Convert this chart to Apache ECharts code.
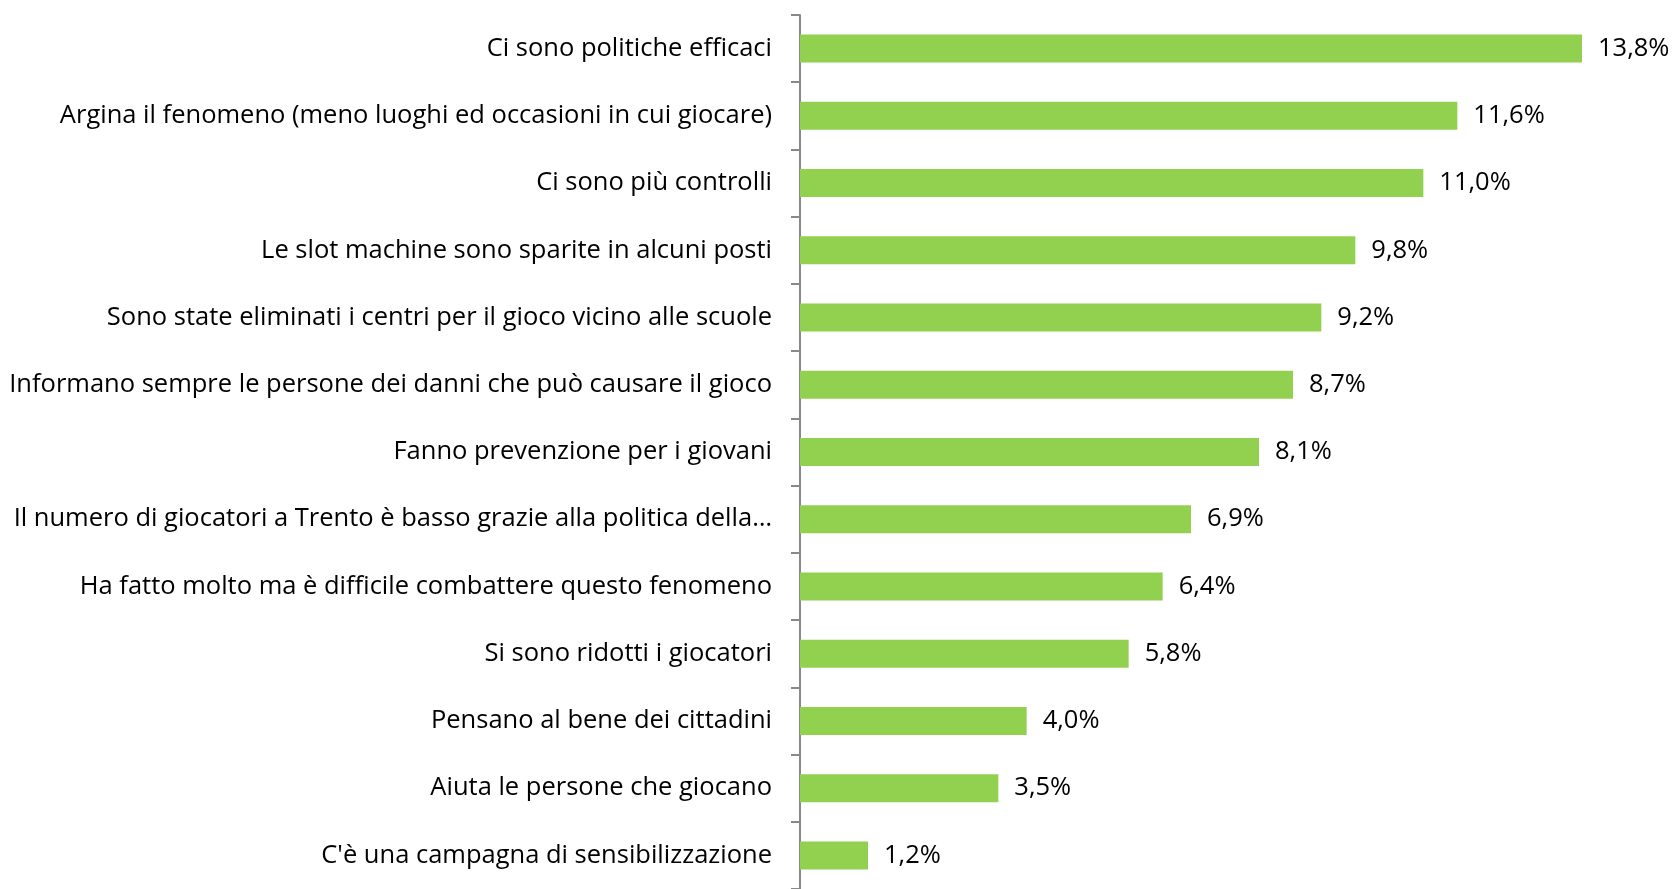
<!DOCTYPE html>
<html>
<head>
<meta charset="utf-8">
<script src="https://cdn.jsdelivr.net/npm/echarts@6/dist/echarts.min.js"></script>
<style>
html,body{margin:0;padding:0;background:#fff;}
#mainChart{width:1676px;height:889px;}
</style>
</head>
<body>
<div id="mainChart"></div>
<script>
// categories listed top to bottom
var catNameList = [
	"Ci sono politiche efficaci",
	"Argina il fenomeno (meno luoghi ed occasioni in cui giocare)",
	"Ci sono più controlli",
	"Le slot machine sono sparite in alcuni posti",
	"Sono state eliminati i centri per il gioco vicino alle scuole",
	"Informano sempre le persone dei danni che può causare il gioco",
	"Fanno prevenzione per i giovani",
	"Il numero di giocatori a Trento è basso grazie alla politica della…",
	"Ha fatto molto ma è difficile combattere questo fenomeno",
	"Si sono ridotti i giocatori",
	"Pensano al bene dei cittadini",
	"Aiuta le persone che giocano",
	"C'è una campagna di sensibilizzazione"
];
var catNumList = [13.8, 11.6, 11.0, 9.8, 9.2, 8.7, 8.1, 6.9, 6.4, 5.8, 4.0, 3.5, 1.2];

var options = {
	animation: false,
	textStyle: { fontFamily: 'Open Sans' },
	grid: {
		left: 800,
		top: 15,
		width: 850,
		height: 875
	},
	xAxis: {
		type: 'value',
		min: 0,
		max: 15,
		show: false
	},
	yAxis: {
		type: 'category',
		inverse: true,
		data: catNameList,
		axisLine: { show: true, lineStyle: { color: '#898989', width: 2 } },
		axisTick: { show: true, length: 9, lineStyle: { color: '#898989', width: 2 } },
		axisLabel: {
			margin: 28,
			color: '#000',
			fontSize: 25.5,
			fontFamily: 'Open Sans',
			padding: [3, 0, 0, 0]
		}
	},
	series: [{
		type: 'bar',
		data: catNumList,
		barWidth: 28,
		itemStyle: { color: '#92D050' },
		label: {
			show: true,
			position: 'right',
			distance: 16,
			color: '#000',
			fontSize: 25.5,
			fontFamily: 'Open Sans',
			padding: [3, 0, 0, 0],
			formatter: function (p) {
				return p.value.toFixed(1).replace('.', ',') + '%';
			}
		}
	}]
};

var mainChart = echarts.init(document.getElementById('mainChart'));
mainChart.setOption(options);
</script>
</body>
</html>
